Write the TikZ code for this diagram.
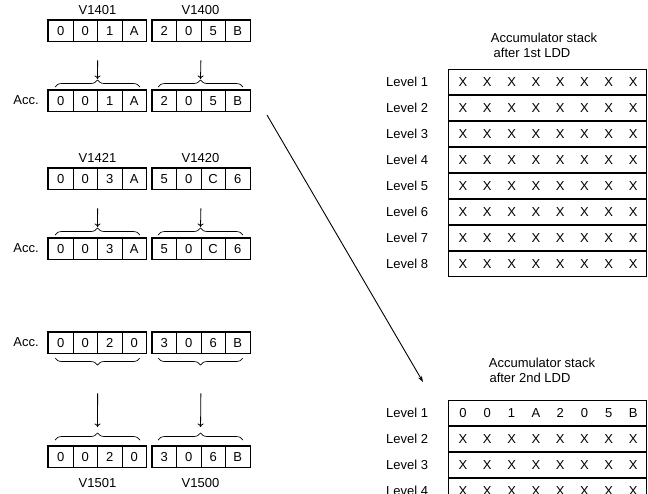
\documentclass[tikz,border=0pt]{standalone}
\usepackage{fontspec}
\setmainfont{Liberation Sans}
\usetikzlibrary{arrows.meta,decorations.pathreplacing}

\begin{document}
\begin{tikzpicture}[
    x=1pt,
    y=-1pt,
    font=\fontsize{13}{15}\selectfont,
    cell/.style={
        draw,
        line width=0.8pt,
        minimum width=24.5pt,
        minimum height=20.5pt,
        inner sep=0pt,
        anchor=north west
    },
    regframe/.style={
        draw,
        line width=1.2pt
    },
    acctag/.style={
        inner sep=0pt
    },
    load/.style={
        -{To[length=3.5pt,width=6pt]},
        line width=0.8pt
    },
    push/.style={
        -{Stealth[length=6pt,width=4pt]},
        line width=0.9pt
    },
    brc/.style={
        decorate,
        decoration={brace,amplitude=7pt},
        line width=0.7pt
    },
    brcdown/.style={
        decorate,
        decoration={brace,mirror,amplitude=7pt},
        line width=0.7pt
    },
    stackrow/.style={
        draw,
        line width=1.2pt,
        minimum width=198pt,
        minimum height=25pt,
        inner sep=0pt,
        anchor=north west
    },
    entry/.style={
        inner sep=0pt
    },
    lvltext/.style={
        anchor=west,
        inner sep=0pt
    },
    stacktitle/.style={
        inner sep=0pt
    }
]

\useasboundingbox (0,0) rectangle (648,493);
\clip (0,0) rectangle (648,493);

% ============================================================
% Left column: V-memory words and accumulator
% ============================================================

\foreach \reg/\ytop/\vals in {
    ldA/20/{0,0,1,A,2,0,5,B},
    accA/90/{0,0,1,A,2,0,5,B},
    ldB/168/{0,0,3,A,5,0,C,6},
    accB/238/{0,0,3,A,5,0,C,6},
    accC/332/{0,0,2,0,3,0,6,B},
    outC/446/{0,0,2,0,3,0,6,B}} {
    \foreach \d [count=\i from 0] in \vals {
        \node[cell] (\reg-\i) at ({48+24.5*\i+5.5*int(\i/4)},\ytop) {\d};
    }
    \draw[regframe] (\reg-0.north west) rectangle (\reg-3.south east);
    \draw[regframe] (\reg-4.north west) rectangle (\reg-7.south east);
}

% ------------------------------------------------------------
% 1. LDD V1400
% ------------------------------------------------------------
\node (lbl-v1401) at (97.5,10) {V1401};
\node (lbl-v1400) at (200.5,10) {V1400};
\node[acctag] (tag-accA) at (26,100) {Acc.};

\coordinate (accA-hi-tip) at (97.5,79);
\coordinate (accA-lo-tip) at (200.5,79);

\draw[brc] (55,87) -- (140,87);
\draw[brc] (158,87) -- (243,87);

\draw[load, shorten <=19pt] (ldA-1.south east) -- (accA-hi-tip);
\draw[load, shorten <=19pt] (ldA-5.south east) -- (accA-lo-tip);

% ------------------------------------------------------------
% 2. LDD V1420
% ------------------------------------------------------------
\node (lbl-v1421) at (97.5,158) {V1421};
\node (lbl-v1420) at (200.5,158) {V1420};
\node[acctag] (tag-accB) at (26,248) {Acc.};

\coordinate (accB-hi-tip) at (97.5,227);
\coordinate (accB-lo-tip) at (200.5,227);

\draw[brc] (55,235) -- (140,235);
\draw[brc] (158,235) -- (243,235);

\draw[load, shorten <=19pt] (ldB-1.south east) -- (accB-hi-tip);
\draw[load, shorten <=19pt] (ldB-5.south east) -- (accB-lo-tip);

% ------------------------------------------------------------
% 3. OUTD V1500
% ------------------------------------------------------------
\node[acctag] (tag-accC) at (26,342) {Acc.};
\node (lbl-v1501) at (97.5,483) {V1501};
\node (lbl-v1500) at (200.5,483) {V1500};

\coordinate (outC-hi-tip) at (97.5,431);
\coordinate (outC-lo-tip) at (200.5,431);

\draw[brcdown] (55,358) -- (140,358);
\draw[brcdown] (158,358) -- (243,358);
\draw[brc] (55,440) -- (140,440);
\draw[brc] (158,440) -- (243,440);

\draw[load, shorten <=40pt, shorten >=4pt] (accC-1.south east) -- (outC-hi-tip);
\draw[load, shorten <=40pt, shorten >=4pt] (accC-5.south east) -- (outC-lo-tip);

% ============================================================
% Right column: accumulator stack
% ============================================================

% ------------------------------------------------------------
% Stack after 1st LDD
% ------------------------------------------------------------
\node[stacktitle] (st1-title) at (544,38) {Accumulator stack};
\node[stacktitle] (st1-sub)   at (532,53) {after 1st LDD};

\foreach \lv in {1,...,8} {
    \node[stackrow] (st1-row\lv) at (448,{43+26*\lv}) {};
    \node[lvltext]  (st1-lvl\lv) at (386,{56+26*\lv}) {Level \lv};
    \foreach \c in {0,...,7}
        \node[entry] (st1-e\lv-\c) at ({463+24.3*\c},{56+26*\lv}) {X};
}

% ------------------------------------------------------------
% Stack after 2nd LDD
% ------------------------------------------------------------
\node[stacktitle] (st2-title) at (542,363) {Accumulator stack};
\node[stacktitle] (st2-sub)   at (530,378) {after 2nd LDD};

\foreach \lv/\vals in {
    1/{0,0,1,A,2,0,5,B},
    2/{X,X,X,X,X,X,X,X},
    3/{X,X,X,X,X,X,X,X},
    4/{X,X,X,X,X,X,X,X}} {
    \node[stackrow] (st2-row\lv) at (448,{374+26*\lv}) {};
    \node[lvltext]  (st2-lvl\lv) at (386,{387+26*\lv}) {Level \lv};
    \foreach \d [count=\c from 0] in \vals
        \node[entry] (st2-e\lv-\c) at ({463+24.3*\c},{387+26*\lv}) {\d};
}

% Stack push
\coordinate (ldd-src) at (267,115);
\coordinate (ldd-dst) at (423,382);
\draw[push] (ldd-src) -- (ldd-dst);

\end{tikzpicture}
\end{document}
